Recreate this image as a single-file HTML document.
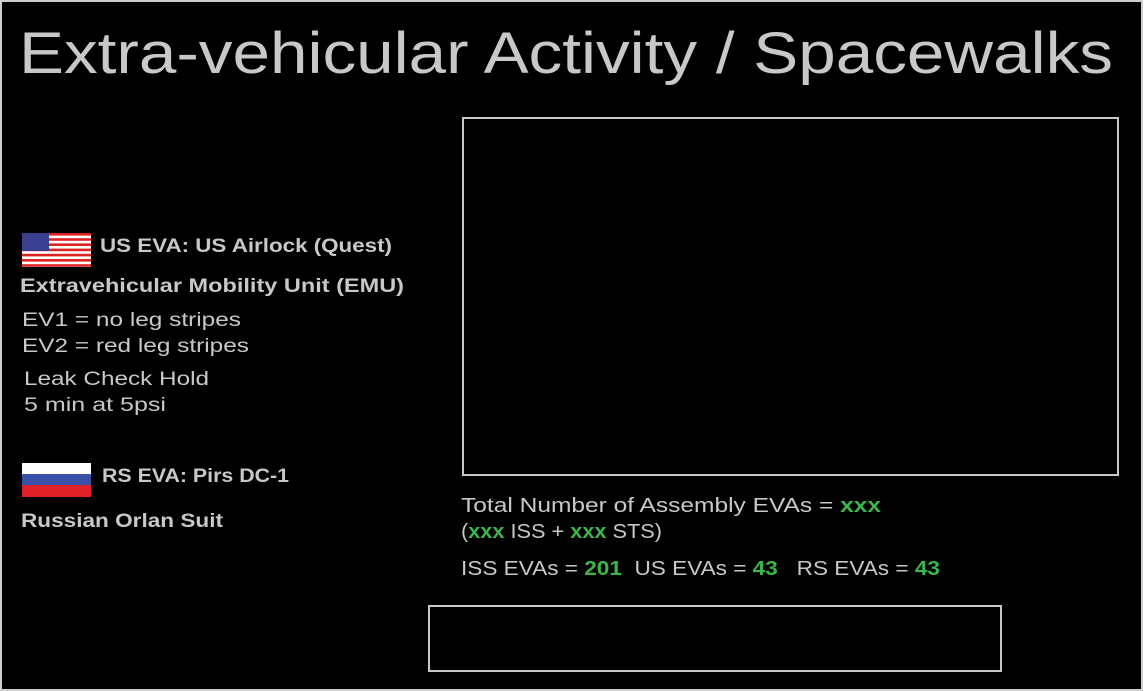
<!DOCTYPE html>
<html><head><meta charset="utf-8"><style>
html,body{margin:0;padding:0;background:#fff}
svg{display:block}
text{font-family:"Liberation Sans",sans-serif}
</style></head><body>
<svg width="1144" height="691" viewBox="0 0 1144 691" xmlns="http://www.w3.org/2000/svg">
<rect x="1" y="1" width="1141" height="689" fill="#000" stroke="#cfcfcf" stroke-width="2"/>
<text x="19" y="73" font-size="58" fill="#c8c8c8" textLength="1094" lengthAdjust="spacingAndGlyphs">Extra-vehicular Activity / Spacewalks</text>
<rect x="463" y="118" width="655" height="357" fill="none" stroke="#c8c8c8" stroke-width="2"/>
<rect x="429" y="606" width="572" height="65" fill="none" stroke="#c8c8c8" stroke-width="2"/>
<g>
<rect x="22" y="233" width="69" height="34" fill="#fff"/>
<g fill="#d22">
<rect x="22" y="233" width="69" height="2.6"/><rect x="22" y="238.2" width="69" height="2.6"/><rect x="22" y="243.4" width="69" height="2.6"/><rect x="22" y="248.6" width="69" height="2.6"/><rect x="22" y="253.8" width="69" height="2.6"/><rect x="22" y="259" width="69" height="2.6"/><rect x="22" y="264.2" width="69" height="2.6"/>
</g>
<rect x="22" y="233" width="27" height="18" fill="#3b3f8f"/>
</g>
<text x="100" y="252" font-size="19" font-weight="bold" fill="#c8c8c8" textLength="292" lengthAdjust="spacingAndGlyphs">US EVA: US Airlock (Quest)</text>
<text x="20" y="292" font-size="19" font-weight="bold" fill="#c8c8c8" textLength="384" lengthAdjust="spacingAndGlyphs">Extravehicular Mobility Unit (EMU)</text>
<text x="22" y="326" font-size="19" fill="#c8c8c8" textLength="219" lengthAdjust="spacingAndGlyphs">EV1 = no leg stripes</text>
<text x="22" y="352" font-size="19" fill="#c8c8c8" textLength="227" lengthAdjust="spacingAndGlyphs">EV2 = red leg stripes</text>
<text x="24" y="385" font-size="19" fill="#c8c8c8" textLength="185" lengthAdjust="spacingAndGlyphs">Leak Check Hold</text>
<text x="24" y="411" font-size="19" fill="#c8c8c8" textLength="142" lengthAdjust="spacingAndGlyphs">5 min at 5psi</text>
<rect x="22" y="463" width="69" height="11" fill="#fff"/>
<rect x="22" y="474" width="69" height="11" fill="#3a51a8"/>
<rect x="22" y="485" width="69" height="12" fill="#e02027"/>
<text x="102" y="482" font-size="19" font-weight="bold" fill="#c8c8c8" textLength="187" lengthAdjust="spacingAndGlyphs">RS EVA: Pirs DC-1</text>
<text x="21" y="527" font-size="19" font-weight="bold" fill="#c8c8c8" textLength="202" lengthAdjust="spacingAndGlyphs">Russian Orlan Suit</text>
<text x="461" y="512" font-size="20" fill="#c8c8c8" textLength="420" lengthAdjust="spacingAndGlyphs">Total Number of Assembly EVAs = <tspan fill="#3cb54a" font-weight="bold">xxx</tspan></text>
<text x="461" y="538" font-size="20" fill="#c8c8c8" textLength="201" lengthAdjust="spacingAndGlyphs">(<tspan fill="#3cb54a" font-weight="bold">xxx</tspan> ISS + <tspan fill="#3cb54a" font-weight="bold">xxx</tspan> STS)</text>
<text x="461" y="575" font-size="20" fill="#c8c8c8" xml:space="preserve" textLength="479" lengthAdjust="spacingAndGlyphs">ISS EVAs = <tspan fill="#3cb54a" font-weight="bold">201</tspan>  US EVAs = <tspan fill="#3cb54a" font-weight="bold">43</tspan>   RS EVAs = <tspan fill="#3cb54a" font-weight="bold">43</tspan></text>
</svg>
</body></html>
